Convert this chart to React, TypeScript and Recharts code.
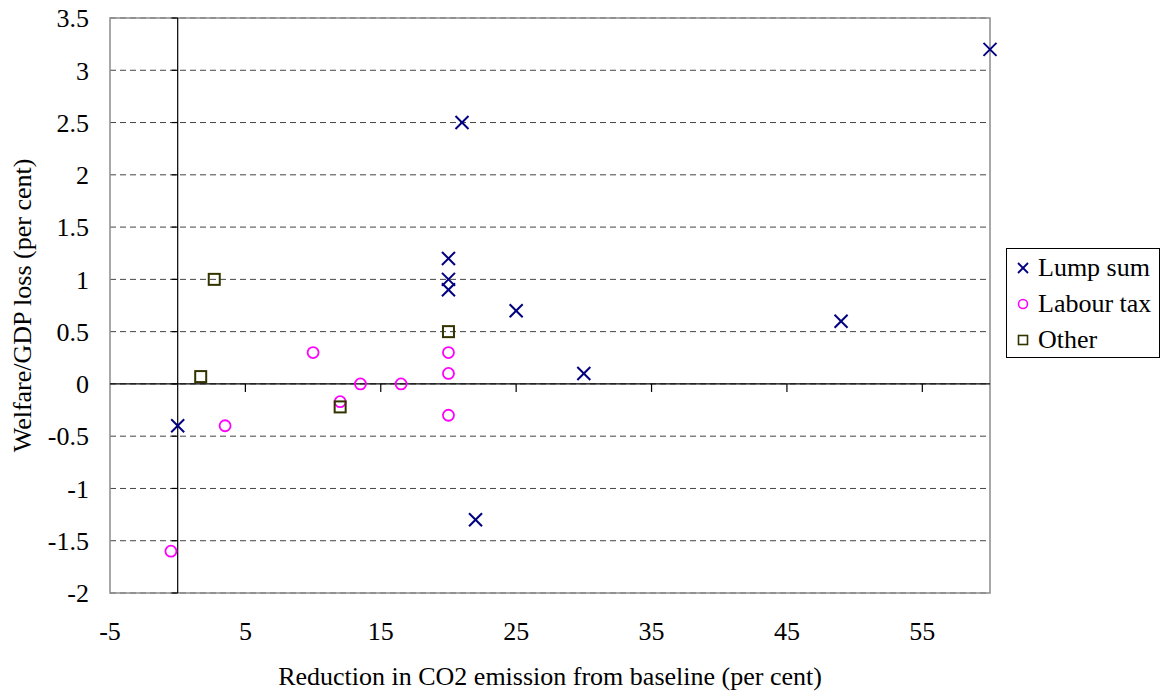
import React from "react";
import {
  ScatterChart,
  Scatter,
  XAxis,
  YAxis,
  CartesianGrid,
  ReferenceLine,
  ReferenceArea,
} from "recharts";

const xTicks = [-5, 5, 15, 25, 35, 45, 55];
const yTicks = [-2, -1.5, -1, -0.5, 0, 0.5, 1, 1.5, 2, 2.5, 3, 3.5];

const lumpSum = [
  { x: 60, y: 3.2 },
  { x: 21, y: 2.5 },
  { x: 20, y: 1.2 },
  { x: 20, y: 1.0 },
  { x: 20, y: 0.9 },
  { x: 25, y: 0.7 },
  { x: 49, y: 0.6 },
  { x: 30, y: 0.1 },
  { x: 0, y: -0.4 },
  { x: 22, y: -1.3 },
];

const labourTax = [
  { x: -0.5, y: -1.6 },
  { x: 3.5, y: -0.4 },
  { x: 10, y: 0.3 },
  { x: 12, y: -0.17 },
  { x: 13.5, y: 0 },
  { x: 16.5, y: 0 },
  { x: 20, y: 0.3 },
  { x: 20, y: 0.1 },
  { x: 20, y: -0.3 },
];

const other = [
  { x: 2.7, y: 1.0 },
  { x: 1.7, y: 0.07 },
  { x: 12, y: -0.22 },
  { x: 20, y: 0.5 },
];

const seriesNames = ["Lump sum", "Labour tax", "Other"];
const seriesColors = ["#000080", "#ff00ff", "#333300"];

const FONT = '"Times New Roman", "Liberation Serif", Tinos, "Noto Serif", "DejaVu Serif", serif';

const CrossShape = (props: any) => {
  const { cx, cy } = props;
  const s = 6.5;
  return (
    <g>
      <line x1={cx - s} y1={cy - s} x2={cx + s} y2={cy + s} stroke={seriesColors[0]} strokeWidth={2} />
      <line x1={cx - s} y1={cy + s} x2={cx + s} y2={cy - s} stroke={seriesColors[0]} strokeWidth={2} />
    </g>
  );
};

const CircleShape = (props: any) => {
  const { cx, cy } = props;
  return <circle cx={cx} cy={cy} r={5.5} fill="none" stroke={seriesColors[1]} strokeWidth={1.8} />;
};

const SquareShape = (props: any) => {
  const { cx, cy } = props;
  return (
    <rect x={cx - 5.5} y={cy - 5.5} width={11} height={11} fill="none" stroke={seriesColors[2]} strokeWidth={2} />
  );
};

const LegendIcon = ({ i }: { i: number }) => (
  <svg width={14} height={14} style={{ marginRight: 8 }}>
    {i === 0 && (
      <g>
        <line x1={2} y1={2} x2={12} y2={12} stroke={seriesColors[0]} strokeWidth={1.8} />
        <line x1={2} y1={12} x2={12} y2={2} stroke={seriesColors[0]} strokeWidth={1.8} />
      </g>
    )}
    {i === 1 && <circle cx={7} cy={7} r={4.5} fill="none" stroke={seriesColors[1]} strokeWidth={1.6} />}
    {i === 2 && <rect x={2.5} y={2.5} width={9} height={9} fill="none" stroke={seriesColors[2]} strokeWidth={1.6} />}
  </svg>
);

export default function App() {
  const tickStyle = { fontFamily: FONT, fontSize: 26, fill: "#000" };
  return (
    <div style={{ position: "absolute", left: 0, top: 0, width: 1162, height: 692, fontFamily: FONT }}>
      <ScatterChart
        width={1162}
        height={692}
        margin={{ top: 18, right: 172, left: 0, bottom: 0 }}
        style={{ fontFamily: FONT }}
      >
        <CartesianGrid vertical={false} stroke="#444" strokeDasharray="6 4" />
        <XAxis
          type="number"
          dataKey="x"
          domain={[-5, 60]}
          ticks={xTicks}
          axisLine={false}
          tickLine={false}
          tickSize={0}
          tickMargin={29}
          height={99}
          tick={tickStyle}
          interval={0}
          label={{
            content: (p: any) => {
              const vb = p.viewBox;
              return (
                <text x={vb.x + vb.width / 2} y={685} textAnchor="middle" style={{ fontFamily: FONT }} fontSize={26} fill="#000">
                  Reduction in CO2 emission from baseline (per cent)
                </text>
              );
            },
          }}
        />
        <YAxis
          type="number"
          dataKey="y"
          domain={[-2, 3.5]}
          ticks={yTicks}
          axisLine={false}
          tickLine={false}
          tickSize={0}
          tickMargin={21}
          width={110}
          tick={tickStyle}
          interval={0}
          label={{
            content: (p: any) => {
              const vb = p.viewBox;
              const cy = vb.y + vb.height / 2;
              return (
                <text
                  x={31}
                  y={cy}
                  transform={`rotate(-90, 31, ${cy})`}
                  textAnchor="middle"
                  style={{ fontFamily: FONT }}
                  fontSize={26}
                  fill="#000"
                >
                  Welfare/GDP loss (per cent)
                </text>
              );
            },
          }}
        />
        <ReferenceArea x1={-5} x2={60} y1={-2} y2={3.5} fill="none" stroke="#8c8c8c" strokeWidth={1.5} fillOpacity={0} />
        <ReferenceLine x={0} stroke="#000" strokeWidth={1.2} />
        <ReferenceLine y={0} stroke="#000" strokeWidth={1.2} />
        {xTicks.filter((t) => t > -5).map((t) => (
          <ReferenceLine key={"xt" + t} segment={[{ x: t, y: 0 }, { x: t, y: -0.077 }]} stroke="#000" strokeWidth={1.2} />
        ))}
        {yTicks.map((t) => (
          <ReferenceLine key={"yt" + t} segment={[{ x: 0, y: t }, { x: -0.45, y: t }]} stroke="#000" strokeWidth={1.2} />
        ))}
        <Scatter name={seriesNames[0]} data={lumpSum} shape={CrossShape} isAnimationActive={false} />
        <Scatter name={seriesNames[1]} data={labourTax} shape={CircleShape} isAnimationActive={false} />
        <Scatter name={seriesNames[2]} data={other} shape={SquareShape} isAnimationActive={false} />
      </ScatterChart>
      <div
        style={{
          position: "absolute",
          left: 1006,
          top: 248,
          width: 154,
          height: 110,
          border: "1px solid #000",
          background: "#fff",
          fontFamily: FONT,
          fontSize: 26,
          boxSizing: "border-box",
          paddingLeft: 9,
          paddingTop: 1,
        }}
      >
        {seriesNames.map((n, i) => (
          <div key={n} style={{ display: "flex", alignItems: "center", height: 36, whiteSpace: "nowrap" }}>
            <LegendIcon i={i} />
            <span>{n}</span>
          </div>
        ))}
      </div>
    </div>
  );
}
